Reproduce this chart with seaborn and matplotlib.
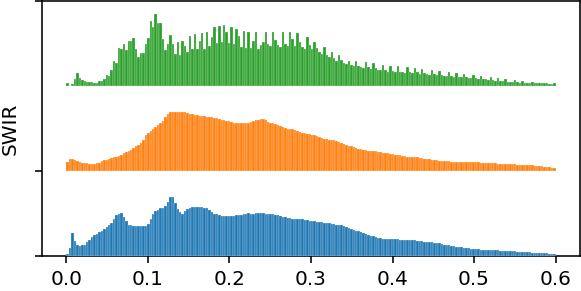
import numpy as np
import pandas as pd
import matplotlib.pyplot as plt
import seaborn as sns

# bin heights (fraction of one row), 200 bins of width 0.003 from 0 to 0.6
bin_width = 0.003
x_min, x_max = 0.0, 0.6

blue_heights = [
    0.02, 0.10, 0.27, 0.18, 0.13, 0.12, 0.13, 0.13, 0.16, 0.19,
    0.22, 0.25, 0.26, 0.28, 0.30, 0.32, 0.34, 0.36, 0.39, 0.43,
    0.48, 0.50, 0.51, 0.46, 0.41, 0.37, 0.36, 0.35, 0.35, 0.35,
    0.35, 0.35, 0.35, 0.38, 0.44, 0.50, 0.53, 0.54, 0.56, 0.57,
    0.59, 0.64, 0.69, 0.70, 0.62, 0.55, 0.52, 0.50, 0.53, 0.55,
    0.57, 0.58, 0.58, 0.58, 0.58, 0.58, 0.57, 0.56, 0.54, 0.52,
    0.50, 0.49, 0.48, 0.47, 0.47, 0.47, 0.47, 0.47, 0.47, 0.48,
    0.48, 0.48, 0.49, 0.49, 0.50, 0.50, 0.50, 0.51, 0.51, 0.51,
    0.51, 0.50, 0.50, 0.49, 0.49, 0.48, 0.48, 0.47, 0.46, 0.46,
    0.45, 0.45, 0.44, 0.44, 0.435, 0.43, 0.43, 0.42, 0.42, 0.41,
    0.41, 0.41, 0.40, 0.40, 0.40, 0.39, 0.39, 0.39, 0.38, 0.38,
    0.37, 0.365, 0.36, 0.35, 0.34, 0.33, 0.32, 0.31, 0.30, 0.29,
    0.28, 0.27, 0.26, 0.25, 0.24, 0.23, 0.22, 0.215, 0.21, 0.205,
    0.20, 0.20, 0.20, 0.196, 0.195, 0.195, 0.193, 0.192, 0.19, 0.19,
    0.19, 0.19, 0.185, 0.18, 0.18, 0.175, 0.17, 0.17, 0.165, 0.16,
    0.155, 0.15, 0.15, 0.14, 0.135, 0.13, 0.125, 0.12, 0.115, 0.11,
    0.105, 0.10, 0.097, 0.094, 0.09, 0.087, 0.084, 0.081, 0.078, 0.076,
    0.074, 0.072, 0.07, 0.069, 0.068, 0.067, 0.065, 0.063, 0.062, 0.06,
    0.058, 0.056, 0.055, 0.053, 0.051, 0.05, 0.048, 0.046, 0.045, 0.043,
    0.041, 0.04, 0.038, 0.036, 0.034, 0.032, 0.031, 0.029, 0.027, 0.024,
]

orange_heights = [
    0.11, 0.14, 0.14, 0.13, 0.12, 0.11, 0.10, 0.095, 0.09, 0.085,
    0.085, 0.085, 0.09, 0.10, 0.12, 0.125, 0.13, 0.14, 0.15, 0.16,
    0.17, 0.18, 0.19, 0.21, 0.22, 0.24, 0.25, 0.27, 0.29, 0.31,
    0.33, 0.37, 0.42, 0.45, 0.47, 0.50, 0.52, 0.54, 0.56, 0.59,
    0.63, 0.67, 0.69, 0.69, 0.70, 0.70, 0.70, 0.70, 0.69, 0.68,
    0.67, 0.67, 0.66, 0.66, 0.65, 0.65, 0.65, 0.64, 0.64, 0.63,
    0.62, 0.62, 0.61, 0.60, 0.60, 0.59, 0.59, 0.58, 0.57, 0.57,
    0.56, 0.56, 0.56, 0.57, 0.57, 0.58, 0.59, 0.60, 0.60, 0.61,
    0.61, 0.60, 0.58, 0.57, 0.56, 0.55, 0.54, 0.53, 0.52, 0.51,
    0.50, 0.50, 0.49, 0.48, 0.47, 0.46, 0.45, 0.45, 0.44, 0.43,
    0.42, 0.42, 0.41, 0.40, 0.39, 0.38, 0.38, 0.37, 0.36, 0.36,
    0.35, 0.34, 0.33, 0.32, 0.31, 0.30, 0.29, 0.28, 0.27, 0.26,
    0.26, 0.25, 0.25, 0.24, 0.24, 0.23, 0.23, 0.22, 0.22, 0.21,
    0.21, 0.21, 0.20, 0.20, 0.19, 0.19, 0.19, 0.18, 0.18, 0.17,
    0.17, 0.17, 0.16, 0.16, 0.15, 0.15, 0.14, 0.14, 0.14, 0.13,
    0.13, 0.13, 0.12, 0.12, 0.12, 0.12, 0.115, 0.11, 0.11, 0.11,
    0.11, 0.105, 0.105, 0.10, 0.10, 0.10, 0.10, 0.10, 0.10, 0.095,
    0.095, 0.095, 0.09, 0.09, 0.09, 0.09, 0.085, 0.085, 0.085, 0.085,
    0.08, 0.08, 0.08, 0.08, 0.075, 0.075, 0.07, 0.07, 0.07, 0.065,
    0.065, 0.06, 0.06, 0.06, 0.055, 0.05, 0.05, 0.045, 0.04, 0.035,
]

green_heights = [
    0.03, 0.0, 0.02, 0.086, 0.15, 0.10, 0.07, 0.055, 0.05, 0.047,
    0.045, 0.04, 0.04, 0.06, 0.06, 0.086, 0.13, 0.12, 0.19, 0.29,
    0.27, 0.45, 0.43, 0.49, 0.42, 0.53, 0.53, 0.56, 0.44, 0.34,
    0.39, 0.39, 0.50, 0.57, 0.76, 0.70, 0.85, 0.74, 0.74, 0.55,
    0.42, 0.49, 0.60, 0.49, 0.38, 0.52, 0.37, 0.53, 0.47, 0.40,
    0.59, 0.43, 0.61, 0.44, 0.53, 0.62, 0.44, 0.64, 0.47, 0.58,
    0.69, 0.51, 0.71, 0.52, 0.72, 0.63, 0.51, 0.69, 0.49, 0.67,
    0.59, 0.46, 0.65, 0.45, 0.64, 0.45, 0.53, 0.63, 0.44, 0.48,
    0.52, 0.63, 0.50, 0.47, 0.64, 0.54, 0.48, 0.46, 0.63, 0.50,
    0.47, 0.64, 0.55, 0.47, 0.62, 0.52, 0.46, 0.44, 0.58, 0.48,
    0.43, 0.52, 0.45, 0.40, 0.38, 0.46, 0.37, 0.34, 0.40, 0.33,
    0.30, 0.37, 0.31, 0.27, 0.26, 0.30, 0.25, 0.23, 0.29, 0.24,
    0.22, 0.21, 0.28, 0.22, 0.20, 0.27, 0.21, 0.19, 0.19, 0.25,
    0.19, 0.17, 0.24, 0.18, 0.17, 0.23, 0.17, 0.16, 0.15, 0.22,
    0.17, 0.15, 0.21, 0.16, 0.14, 0.20, 0.15, 0.14, 0.13, 0.19,
    0.14, 0.13, 0.18, 0.13, 0.12, 0.12, 0.16, 0.12, 0.11, 0.15,
    0.11, 0.10, 0.14, 0.10, 0.09, 0.09, 0.13, 0.09, 0.08, 0.12,
    0.08, 0.08, 0.07, 0.10, 0.07, 0.06, 0.09, 0.06, 0.06, 0.08,
    0.05, 0.05, 0.05, 0.07, 0.05, 0.04, 0.06, 0.04, 0.04, 0.04,
    0.05, 0.03, 0.03, 0.04, 0.03, 0.03, 0.035, 0.025, 0.02, 0.03,
]

rows = [blue_heights, orange_heights, green_heights]
colors = sns.color_palette("tab10")[:3]
ylabel = "SWIR"

edges = np.arange(0, len(blue_heights) + 1) * bin_width + x_min
centers = edges[:-1] + bin_width / 2

fig = plt.figure(figsize=(581 / 144, 291 / 144), dpi=144)
ax = fig.add_axes([42 / 581, 35 / 291, 538 / 581, 255 / 291])
xlim = (-0.03, 0.63)

for i, (heights, color) in enumerate(zip(rows, colors)):
    sub = ax.inset_axes([0, i / 3, 1, 1 / 3])
    df = pd.DataFrame({"value": centers, "height": heights})
    sns.histplot(data=df, x="value", weights="height", bins=list(edges),
                 ax=sub, color=color, alpha=1, edgecolor="white",
                 linewidth=0.12)
    sub.set_xlim(xlim)
    sub.set_ylim(0, 1)
    sub.set_xticks([])
    sub.set_yticks([])
    sub.set_xlabel("")
    sub.set_ylabel("")
    sub.axis("off")
    sub.patch.set_alpha(0)

ax.set_xlim(xlim)
ax.set_ylim(0, 3)
ax.set_yticks([0, 1, 3])
ax.set_yticklabels([])
ax.set_xticks([0.0, 0.1, 0.2, 0.3, 0.4, 0.5, 0.6])
ax.set_ylabel(ylabel)

fig.savefig("out.png", dpi=144)
